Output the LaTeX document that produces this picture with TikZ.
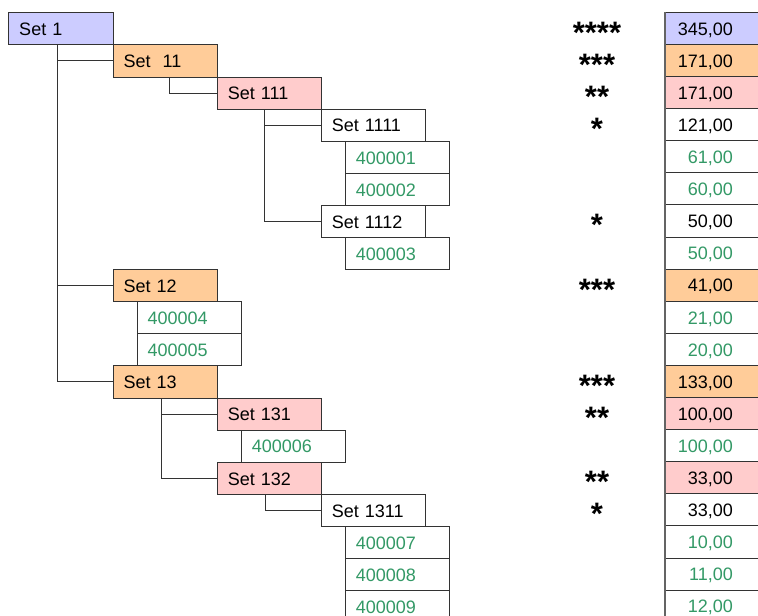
\documentclass[tikz,border=0pt]{standalone}
\usepackage{fontspec}
\setmainfont{Liberation Sans}
\usetikzlibrary{calc}
\definecolor{cblue}{RGB}{204,204,255}
\definecolor{corange}{RGB}{255,204,153}
\definecolor{cpink}{RGB}{255,204,204}
\definecolor{cgreen}{RGB}{51,153,102}
\definecolor{cline}{RGB}{51,51,51}
\definecolor{cedge}{RGB}{100,100,100}
\tikzset{
 cell/.style={draw=cline, line width=0.9pt, rectangle, anchor=north west,
   minimum width=104.3pt, minimum height=32.1pt, text width=83.3pt,
   inner xsep=10.5pt, inner ysep=0pt, align=left, text height=13.6pt,
   text depth=0pt, font=\fontsize{18}{20}\selectfont},
 setcell/.style={cell, text=black},
 leaf/.style={cell, fill=white, text=cgreen},
 conn/.style={draw=cline, line width=0.9pt},
 stars/.style={anchor=base, font=\fontsize{31}{31}\selectfont\bfseries, inner sep=0pt},
 valtext/.style={anchor=base east, inner sep=0pt, font=\fontsize{18}{20}\selectfont},
 valcell/.style={draw=cline, line width=0.9pt},
}
\newcommand\rowtop[1]{12.3+32.1*#1}
\begin{document}
\begin{tikzpicture}[x=1pt,y=-1pt]
\clip (0,0) rectangle (758,616);
\fill[white] (0,0) rectangle (758,616);

% value cells
\foreach \r/\f in {0/cblue,1/corange,2/cpink,3/white,4/white,5/white,6/white,7/white,
  8/corange,9/white,10/white,11/corange,12/cpink,13/white,14/cpink,15/white,16/white,17/white,18/white}{
  \draw[valcell, fill=\f] (665,{\rowtop{\r}}) rectangle (790,{\rowtop{\r}+32.1});
}
\draw[cedge, line width=1.4pt] (665,{\rowtop{0}}) -- (665,{\rowtop{19}});

% tree boxes
\node[setcell, fill=cblue]   (s1)    at (8.3,{\rowtop{0}})  {Set 1};
\node[setcell, fill=corange] (s11)   at (112.7,{\rowtop{1}}) {Set~~11};
\node[setcell, fill=cpink]   (s111)  at (217,{\rowtop{2}})   {Set 111};
\node[setcell, fill=white]   (s1111) at (321,{\rowtop{3}})   {Set 1111};
\node[leaf]                  (l1)    at (345,{\rowtop{4}})   {400001};
\node[leaf]                  (l2)    at (345,{\rowtop{5}})   {400002};
\node[setcell, fill=white]   (s1112) at (321,{\rowtop{6}})   {Set 1112};
\node[leaf]                  (l3)    at (345,{\rowtop{7}})   {400003};
\node[setcell, fill=corange] (s12)   at (112.7,{\rowtop{8}}) {Set 12};
\node[leaf]                  (l4)    at (136.7,{\rowtop{9}}) {400004};
\node[leaf]                  (l5)    at (136.7,{\rowtop{10}}) {400005};
\node[setcell, fill=corange] (s13)   at (112.7,{\rowtop{11}}) {Set 13};
\node[setcell, fill=cpink]   (s131)  at (217,{\rowtop{12}})  {Set 131};
\node[leaf]                  (l6)    at (241,{\rowtop{13}})  {400006};
\node[setcell, fill=cpink]   (s132)  at (217,{\rowtop{14}})  {Set 132};
\node[setcell, fill=white]   (s1311) at (321,{\rowtop{15}})  {Set 1311};
\node[leaf]                  (l7)    at (345,{\rowtop{16}})  {400007};
\node[leaf]                  (l8)    at (345,{\rowtop{17}})  {400008};
\node[leaf]                  (l9)    at (345,{\rowtop{18}})  {400009};

% connectors
\draw[conn] ($(s1.south west)+(48.7,0)$) |- (s11.west);
\draw[conn] ($(s1.south west)+(48.7,0)$) |- (s12.west);
\draw[conn] ($(s1.south west)+(48.7,0)$) |- (s13.west);
\draw[conn] ($(s11.south west)+(56.3,0)$) |- (s111.west);
\draw[conn] ($(s111.south west)+(47.3,0)$) |- (s1111.west);
\draw[conn] ($(s111.south west)+(47.3,0)$) |- (s1112.west);
\draw[conn] ($(s13.south west)+(48.3,0)$) |- (s131.west);
\draw[conn] ($(s13.south west)+(48.3,0)$) |- (s132.west);
\draw[conn] ($(s132.south west)+(48,0)$) |- (s1311.west);

% stars
\foreach \r/\s in {0/****,1/***,2/**,3/*,6/*,8/***,11/***,12/**,14/**,15/*}{
  \node[stars] (st\r) at (597,{\rowtop{\r}+16.05+15}) {\s};
}

% values
\foreach \r/\v/\c in {0/{345,00}/black,1/{171,00}/black,2/{171,00}/black,3/{121,00}/black,
  4/{61,00}/cgreen,5/{60,00}/cgreen,6/{50,00}/black,7/{50,00}/cgreen,8/{41,00}/black,
  9/{21,00}/cgreen,10/{20,00}/cgreen,11/{133,00}/black,12/{100,00}/black,13/{100,00}/cgreen,
  14/{33,00}/black,15/{33,00}/black,16/{10,00}/cgreen,17/{11,00}/cgreen,18/{12,00}/cgreen}{
  \node[valtext, text=\c] (v\r) at (733,{\rowtop{\r}+16.05+6.8}) {\v};
}
\end{tikzpicture}
\end{document}
